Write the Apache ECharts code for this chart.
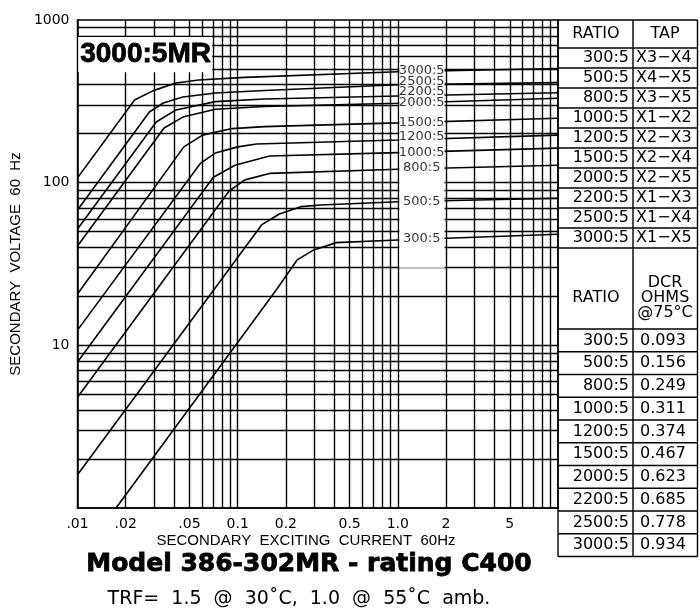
<!DOCTYPE html>
<html><head><meta charset="utf-8">
<script src="https://cdn.jsdelivr.net/npm/echarts@6/dist/echarts.min.js"></script>
<style>html,body{margin:0;padding:0;background:#fff;}#c{width:699px;height:609px;}</style>
</head><body><div id="c"></div>
<script>
// ---- data ----
const xTickValues = [0.01, 0.02, 0.05, 0.1, 0.2, 0.5, 1, 2, 5];
const xTickLabels = ['.01', '.02', '.05', '0.1', '0.2', '0.5', '1.0', '2', '5'];
const yTickValues = [10, 100, 1000];
const yTickLabels = ['10', '100', '1000'];
const gridX = [0.02,0.03,0.04,0.05,0.06,0.07,0.08,0.09,0.1,0.2,0.3,0.4,0.5,0.6,0.7,0.8,0.9,1,2,3,4,5,6,7,8,9];
const gridY = [2,3,4,5,6,7,8,9,10,20,30,40,50,60,70,80,90,100,200,300,400,500,600,700,800,900];

const ratios = ['300:5','500:5','800:5','1000:5','1200:5','1500:5','2000:5','2200:5','2500:5','3000:5'];
const taps = ['X3\u2212X4','X4\u2212X5','X3\u2212X5','X1\u2212X2','X2\u2212X3','X2\u2212X4','X2\u2212X5','X1\u2212X3','X1\u2212X4','X1\u2212X5'];
const dcr = ['0.093','0.156','0.249','0.311','0.374','0.467','0.623','0.685','0.778','0.934'];

// excitation curves: [secondary exciting current A, secondary voltage V]
const c300  = [[0.0174,1.0],[0.174,21.9],[0.235,33.5],[0.299,38.6],[0.413,42.8],[1.0,44.4],[10,48.2]];
const c500  = [[0.01,1.60],[0.141,55.0],[0.182,64.2],[0.248,71.2],[0.330,72.9],[1.0,76.4],[10,80.2]];
const c800  = [[0.01,4.8],[0.0884,88.9],[0.111,104],[0.158,114],[1.0,121],[10,128]];
const c1000 = [[0.01,7.9],[0.0705,108],[0.0962,128],[0.158,146],[1.0,153],[10,163]];
const c1200 = [[0.01,12.4],[0.0587,132],[0.0725,152],[0.100,166],[0.131,173],[1.0,183],[10,196]];
const c1500 = [[0.01,20.7],[0.0461,166],[0.0603,196],[0.0923,215],[0.147,221],[1.0,233],[10,249]];
const c2000 = [[0.01,40.8],[0.0347,217],[0.0455,253],[0.0725,283],[0.147,294],[1.0,308],[10,330]];
const c2200 = [[0.01,51.9],[0.031,236],[0.0412,280],[0.0725,315],[0.147,327],[1.0,341],[10,357]];
const c2500 = [[0.01,67.9],[0.0281,272],[0.0343,309],[0.0455,336],[0.0725,356],[0.147,369],[1.0,400],[10,412]];
const c3000 = [[0.01,107],[0.0227,322],[0.0297,368],[0.0412,410],[0.057,428],[0.111,444],[1.0,481],[10,503]];
const curves = [c300,c500,c800,c1000,c1200,c1500,c2000,c2200,c2500,c3000];

// in-chart curve labels (current, voltage)
const labelX = 1.41;
const labelV = [45.1, 76.1, 123, 152, 191, 233, 309, 361, 416, 486];

// ---- chart ----
const chart = echarts.init(document.getElementById('c'), null, {renderer: 'canvas'});
const BLK = '#000';
function lookup(vals, labs, v) {
  const i = vals.findIndex(t => Math.abs(Math.log10(t) - Math.log10(v)) < 1e-6);
  return i >= 0 ? labs[i] : '';
}

const series = [];
series.push({
  type: 'line', data: [], z: 1, silent: true,
  markLine: {
    z: 1, silent: true, symbol: ['none', 'none'], label: {show: false}, animation: false,
    lineStyle: {color: BLK, width: 1.4, type: 'solid'},
    emphasis: {disabled: true},
    data: gridX.map(v => ({xAxis: v})).concat(gridY.map(v => ({yAxis: v})))
  }
});
curves.forEach((c, i) => {
  series.push({
    type: 'line', name: ratios[i], data: c, z: 3, symbol: 'none', silent: true,
    lineStyle: {color: BLK, width: 1.6}
  });
});
series.push({
  type: 'line', data: [], z: 8, silent: true,
  markArea: {
    z: 8, silent: true, itemStyle: {color: '#fff', opacity: 1}, label: {show: false},
    data: [[{coord: [1.022, 30]}, {coord: [1.957, 545]}]]
  }
});
series.push({
  type: 'line', data: [], z: 8, silent: true,
  markArea: {
    z: 8, silent: true, itemStyle: {color: '#fff', opacity: 1},
    label: {show: true, position: 'insideLeft', distance: 2, formatter: '3000:5MR',
      fontFamily: 'Liberation Sans', fontWeight: 'bold', fontSize: 28, color: BLK,
      textBorderColor: BLK, textBorderWidth: 0.8},
    data: [[{coord: [0.0101, 785]}, {coord: [0.0693, 478]}]]
  }
});
series.push({
  type: 'scatter', z: 12, silent: true, symbolSize: 1,
  itemStyle: {color: 'rgba(0,0,0,0)'},
  data: labelV.map((v, i) => [labelX, v]),
  label: {show: true, position: 'inside', color: BLK, fontFamily: 'DejaVu Sans', fontSize: 13,
    formatter: p => ratios[p.dataIndex]}
});

// table graphic
const G = [];
const TL = 558, TM = 633, TR = 697.5;
const upTop = 20, upHead = 28, upRow = 20;
const loTop = 248, loHead = 81, loRow = 22.75;
function hl(y) { G.push({type: 'line', silent: true, shape: {x1: TL, y1: y, x2: TR, y2: y}, style: {stroke: BLK, lineWidth: 1.4}}); }
function vl(x, y1, y2) { G.push({type: 'line', silent: true, shape: {x1: x, y1: y1, x2: x, y2: y2}, style: {stroke: BLK, lineWidth: 1.4}}); }
function tx(x, y, s, al, f) { G.push({type: 'text', silent: true, x: x, y: y, style: {text: s, align: al, textAlign: al, verticalAlign: 'middle', textVerticalAlign: 'middle', font: f, fill: BLK}}); }
const TF = '16px "DejaVu Sans"';
hl(upTop); hl(upTop + upHead);
tx(596, upTop + upHead / 2, 'RATIO', 'center', TF);
tx(665, upTop + upHead / 2, 'TAP', 'center', TF);
ratios.forEach((r, i) => {
  const y0 = upTop + upHead + i * upRow;
  hl(y0 + upRow);
  tx(629, y0 + upRow / 2, r, 'right', TF);
  tx(636, y0 + upRow / 2, taps[i], 'left', TF);
});
tx(596, loTop + 50, 'RATIO', 'center', TF);
tx(665, loTop + 35, 'DCR', 'center', TF);
tx(665, loTop + 50, 'OHMS', 'center', TF);
tx(665, loTop + 65, '@75\u00B0C', 'center', TF);
hl(loTop + loHead);
ratios.forEach((r, i) => {
  const y0 = loTop + loHead + i * loRow;
  hl(y0 + loRow);
  tx(629, y0 + loRow / 2, r, 'right', TF);
  tx(640, y0 + loRow / 2, dcr[i], 'left', TF);
});
const tBottom = loTop + loHead + ratios.length * loRow;
vl(TL, upTop, tBottom); vl(TM, upTop, tBottom); vl(TR, upTop, tBottom);

// bottom texts
function ctext(x, y, s, f, extra) {
  G.push({type: 'text', silent: true, x: x, y: y, style: Object.assign({text: s, align: 'center', textAlign: 'center', verticalAlign: 'middle', textVerticalAlign: 'middle', font: f, fill: BLK}, extra || {})});
}
ctext(306, 541, 'SECONDARY  EXCITING  CURRENT  60Hz', '15px "Liberation Sans"');
ctext(309, 564, 'Model 386-302MR - rating C400', 'bold 25px "DejaVu Sans"', {stroke: BLK, lineWidth: 0.8});
ctext(299, 599, 'TRF=  1.5  @  30\u02DAC,  1.0  @  55\u02DAC  amb.', '19px "DejaVu Sans"');

chart.setOption({
  animation: false,
  backgroundColor: '#fff',
  grid: {left: 70, top: 20, width: 488, height: 488, show: true, borderColor: BLK, borderWidth: 1.5, backgroundColor: 'transparent'},
  xAxis: {
    type: 'log', logBase: 10, min: 0.01, max: 10,
    axisLine: {show: true, lineStyle: {color: BLK, width: 1.5}},
    axisTick: {show: false},
    splitLine: {show: false}, minorSplitLine: {show: false},
    axisLabel: {customValues: xTickValues, margin: 9, fontFamily: 'DejaVu Sans', fontSize: 14, color: BLK,
      formatter: v => lookup(xTickValues, xTickLabels, v)}
  },
  yAxis: {
    type: 'log', logBase: 10, min: 1, max: 1000,
    name: 'SECONDARY  VOLTAGE  60  Hz', nameLocation: 'middle', nameGap: 46,
    nameTextStyle: {fontFamily: 'Liberation Sans', fontSize: 15, color: BLK},
    axisLine: {show: true, lineStyle: {color: BLK, width: 1.5}},
    axisTick: {show: false},
    splitLine: {show: false}, minorSplitLine: {show: false},
    axisLabel: {customValues: yTickValues, margin: 8, fontFamily: 'DejaVu Sans', fontSize: 14, color: BLK,
      formatter: v => lookup(yTickValues, yTickLabels, v)}
  },
  series: series,
  graphic: G
});
</script></body></html>
